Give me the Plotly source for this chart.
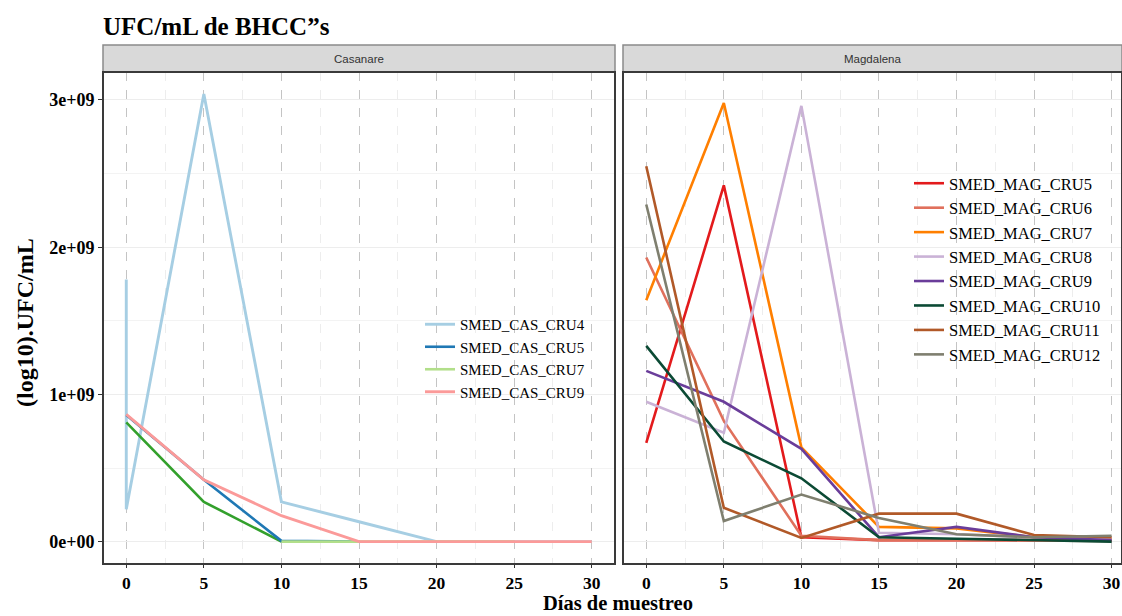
import plotly.graph_objects as go

# ---------------- data ----------------
days = [0, 5, 10, 15, 20, 25, 30]

# Casanare
cas_cru4_x = [0, 0, 5, 10, 15, 20, 25, 30]
cas_cru4_y = [1.78e9, 0.22e9, 3.04e9, 0.27e9, 0.135e9, 0.0, 0.0, 0.0]
cas_cru6_x = [0, 5, 10]
cas_cru6_y = [0.81e9, 0.27e9, 0.0]
cas_cru5_x = [0, 5, 10, 15]
cas_cru5_y = [0.86e9, 0.42e9, 0.005e9, 0.0]
cas_cru7_x = [10, 15, 20, 25]
cas_cru7_y = [0.0, 0.0, 0.0, 0.0]
cas_cru9_x = [0, 5, 10, 15, 20, 25, 30]
cas_cru9_y = [0.865e9, 0.42e9, 0.176e9, 0.0, 0.0, 0.0, 0.0]

# Magdalena
mag_names = ["SMED_MAG_CRU5", "SMED_MAG_CRU6", "SMED_MAG_CRU7", "SMED_MAG_CRU8",
             "SMED_MAG_CRU9", "SMED_MAG_CRU10", "SMED_MAG_CRU11", "SMED_MAG_CRU12"]
mag_cru5 = [0.67e9, 2.42e9, 0.03e9, 0.01e9, 0.01e9, 0.01e9, 0.01e9]
mag_cru6 = [1.93e9, 0.82e9, 0.04e9, 0.01e9, 0.01e9, 0.005e9, 0.005e9]
mag_cru7 = [1.64e9, 2.98e9, 0.64e9, 0.10e9, 0.09e9, 0.03e9, 0.02e9]
mag_cru8 = [0.95e9, 0.74e9, 2.96e9, 0.06e9, 0.05e9, 0.03e9, 0.02e9]
mag_cru9 = [1.16e9, 0.95e9, 0.63e9, 0.03e9, 0.10e9, 0.03e9, 0.01e9]
mag_cru10 = [1.33e9, 0.68e9, 0.43e9, 0.03e9, 0.02e9, 0.01e9, 0.0]
mag_cru11 = [2.55e9, 0.23e9, 0.025e9, 0.19e9, 0.19e9, 0.045e9, 0.03e9]
mag_cru12 = [2.29e9, 0.14e9, 0.32e9, 0.16e9, 0.05e9, 0.03e9, 0.04e9]
mag_values = [mag_cru5, mag_cru6, mag_cru7, mag_cru8, mag_cru9, mag_cru10, mag_cru11, mag_cru12]
mag_colors = ["#E31A1C", "#E0705C", "#FF7F00", "#CAB2D6",
              "#6A3D9A", "#0B4A34", "#B15928", "#7F7F6F"]

y_tickvals = [0, 1e9, 2e9, 3e9]
y_ticktext = ["0e+00", "1e+09", "2e+09", "3e+09"]
x_tickvals = [0, 5, 10, 15, 20, 25, 30]

# ---------------- figure ----------------
fig = go.Figure()
LW = 2.6

fig.add_trace(go.Scatter(x=cas_cru4_x, y=cas_cru4_y, mode="lines", name="SMED_CAS_CRU4",
                         line=dict(color="#A6CEE3", width=LW + 0.3), xaxis="x", yaxis="y", legend="legend"))
fig.add_trace(go.Scatter(x=cas_cru6_x, y=cas_cru6_y, mode="lines", name="SMED_CAS_CRU6",
                         line=dict(color="#33A02C", width=LW), xaxis="x", yaxis="y", showlegend=False))
fig.add_trace(go.Scatter(x=cas_cru5_x, y=cas_cru5_y, mode="lines", name="SMED_CAS_CRU5",
                         line=dict(color="#1F78B4", width=LW), xaxis="x", yaxis="y", legend="legend"))
fig.add_trace(go.Scatter(x=cas_cru7_x, y=cas_cru7_y, mode="lines", name="SMED_CAS_CRU7",
                         line=dict(color="#B2DF8A", width=LW), xaxis="x", yaxis="y", legend="legend"))
fig.add_trace(go.Scatter(x=cas_cru9_x, y=cas_cru9_y, mode="lines", name="SMED_CAS_CRU9",
                         line=dict(color="#FB9A99", width=LW + 0.3), xaxis="x", yaxis="y", legend="legend"))

for name, vals, col in zip(mag_names, mag_values, mag_colors):
    fig.add_trace(go.Scatter(x=days, y=vals, mode="lines", name=name,
                             line=dict(color=col, width=LW), xaxis="x2", yaxis="y2", legend="legend2"))

W, H = 1122, 616
ML, MR, MT, MB = 103, 0, 72, 52
PW = W - ML - MR
PH = H - MT - MB

def px_x(p):
    return (p - ML) / PW

def px_y(p):
    return 1 - (p - MT) / PH

d1 = [0, px_x(615)]
d2 = [px_x(623), 1]

grid_major = "#C4C4C4"
grid_minor = "#EDEDED"
tickfont = dict(family="Liberation Serif", size=18, color="black", weight="bold")
xtickfont = dict(family="Liberation Serif", size=17.5, color="black", weight="bold")

common_x = dict(
    tickmode="array", tickvals=x_tickvals, ticks="outside", ticklen=3, tickcolor="#333333",
    tickfont=xtickfont, showgrid=True, gridcolor=grid_major, griddash="dash", gridwidth=1,
    minor=dict(dtick=2.5, tick0=0, showgrid=True, gridcolor=grid_minor, gridwidth=1, ticks=""),
    zeroline=False, showline=False,
)
common_y = dict(
    range=[-0.152e9, 3.19e9], tickmode="array", tickvals=y_tickvals, showgrid=True,
    gridcolor=grid_minor, gridwidth=1.2,
    minor=dict(dtick=0.5e9, tick0=0, showgrid=True, gridcolor="#F3F3F3", gridwidth=1, ticks=""),
    zeroline=False, showline=False,
)

fig.update_layout(
    width=W, height=H,
    margin=dict(l=ML, r=MR, t=MT, b=MB),
    paper_bgcolor="white", plot_bgcolor="white",
    xaxis=dict(domain=d1, range=[-1.5, 31.5], anchor="y", **common_x),
    xaxis2=dict(domain=d2, range=[-1.5, (1122 - 646) / 15.52], anchor="y2", **common_x),
    yaxis=dict(domain=[0, 1], anchor="x", ticktext=y_ticktext, ticks="outside", ticklen=4,
               tickcolor="#333333", tickfont=tickfont, **common_y),
    yaxis2=dict(domain=[0, 1], anchor="x2", matches="y", showticklabels=False, ticks="", **common_y),
    title=dict(text="UFC/mL de BHCC\u201ds", x=0, xref="paper",
               xanchor="left", y=1 - 26 / H, yref="container", yanchor="middle",
               font=dict(family="Liberation Serif", size=25, color="black", weight="bold")),
    legend=dict(x=px_x(420), y=px_y(308), xanchor="left", yanchor="top", bgcolor="rgba(0,0,0,0)",
                font=dict(family="Liberation Serif", size=15, color="black"), itemwidth=30,
                tracegroupgap=0),
    legend2=dict(x=px_x(909), y=px_y(166), xanchor="left", yanchor="top", bgcolor="rgba(0,0,0,0)",
                 font=dict(family="Liberation Serif", size=16.5, color="black"), itemwidth=30,
                 tracegroupgap=0),
    showlegend=True,
    hovermode=False,
)

strip_top = 1 + (MT - 45) / PH
shapes = []
for dom in (d1, d2):
    shapes.append(dict(type="rect", xref="paper", yref="paper", x0=dom[0], x1=dom[1], y0=1, y1=strip_top,
                       fillcolor="#D9D9D9", line=dict(color="#8A8A8A", width=1.5), layer="above"))
    shapes.append(dict(type="rect", xref="paper", yref="paper", x0=dom[0], x1=dom[1], y0=0, y1=1,
                       fillcolor="rgba(0,0,0,0)", line=dict(color="#3A3A3A", width=2), layer="above"))
fig.update_layout(shapes=shapes)

annotations = [
    dict(text="Casanare", xref="paper", yref="paper", x=(d1[0] + d1[1]) / 2, y=(1 + strip_top) / 2,
         showarrow=False, xanchor="center", yanchor="middle",
         font=dict(family="Liberation Sans", size=11.5, color="#333333")),
    dict(text="Magdalena", xref="paper", yref="paper", x=(d2[0] + d2[1]) / 2, y=(1 + strip_top) / 2,
         showarrow=False, xanchor="center", yanchor="middle",
         font=dict(family="Liberation Sans", size=11.5, color="#333333")),
    dict(text="<b>Días de muestreo</b>", xref="paper", yref="paper", x=px_x(618), y=px_y(616),
         showarrow=False, xanchor="center", yanchor="bottom",
         font=dict(family="Liberation Serif", size=20.5, color="black")),
    dict(text="<b>(log10).UFC/mL</b>", xref="paper", yref="paper", x=px_x(25), y=px_y(323),
         showarrow=False, xanchor="center", yanchor="middle", textangle=-90,
         font=dict(family="Liberation Serif", size=24, color="black")),
]
fig.update_layout(annotations=annotations)

fig.write_html("out.html")
